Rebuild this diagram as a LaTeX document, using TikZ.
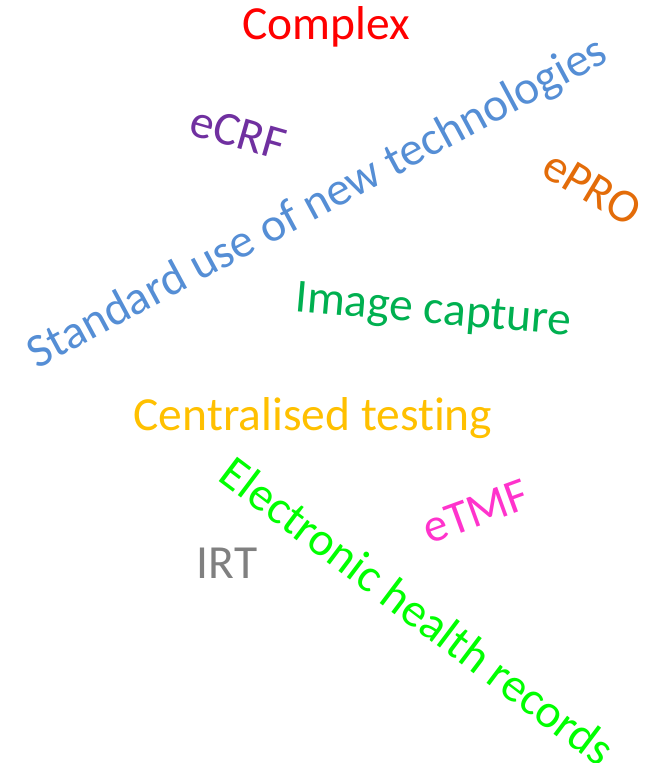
\documentclass[tikz,border=0pt]{standalone}
\usepackage{fontspec}
\setmainfont{Carlito}[Ligatures=NoCommon]
\usepackage{xcolor}
\definecolor{cxred}{HTML}{FF0000}
\definecolor{crfpurple}{HTML}{7030A0}
\definecolor{techblue}{HTML}{558ED5}
\definecolor{proorange}{HTML}{E36C09}
\definecolor{imggreen}{HTML}{00B050}
\definecolor{testgold}{HTML}{FFC000}
\definecolor{ehrgreen}{HTML}{00FF00}
\definecolor{tmfpink}{HTML}{FF33CC}
\definecolor{irtgray}{HTML}{808080}
\tikzset{
    word/.style={inner sep=0pt, font=\fontsize{47.5}{52}\selectfont}
}

\begin{document}
\begin{tikzpicture}[x=1pt, y=-1pt]
    \useasboundingbox (0,0) rectangle (648,763);

    % --- Word cloud ---
    \node (complex) [word, text=cxred] at (326,27) {Complex};
    \node (ecrf) [word, text=crfpurple, rotate=-16] at (238,133) {eCRF};
    \node (stduse) [word, text=techblue, rotate=28.3] at (318,204) {Standard use of new technologies};
    \node (epro) [word, text=proorange, rotate=-31] at (592,188) {ePRO};
    \node (imgcap) [word, text=imggreen, rotate=-5] at (433,312) {Image capture};
    \node (central) [word, text=testgold] at (313,418) {Centralised testing};
    \node (ehr) [word, text=ehrgreen, rotate=-37] at (418,611) {Electronic health records};
    \node (etmf) [word, text=tmfpink, rotate=20] at (476,512) {eTMF};
    \node (irt) [word, text=irtgray] at (227,563) {IRT};
\end{tikzpicture}
\end{document}
